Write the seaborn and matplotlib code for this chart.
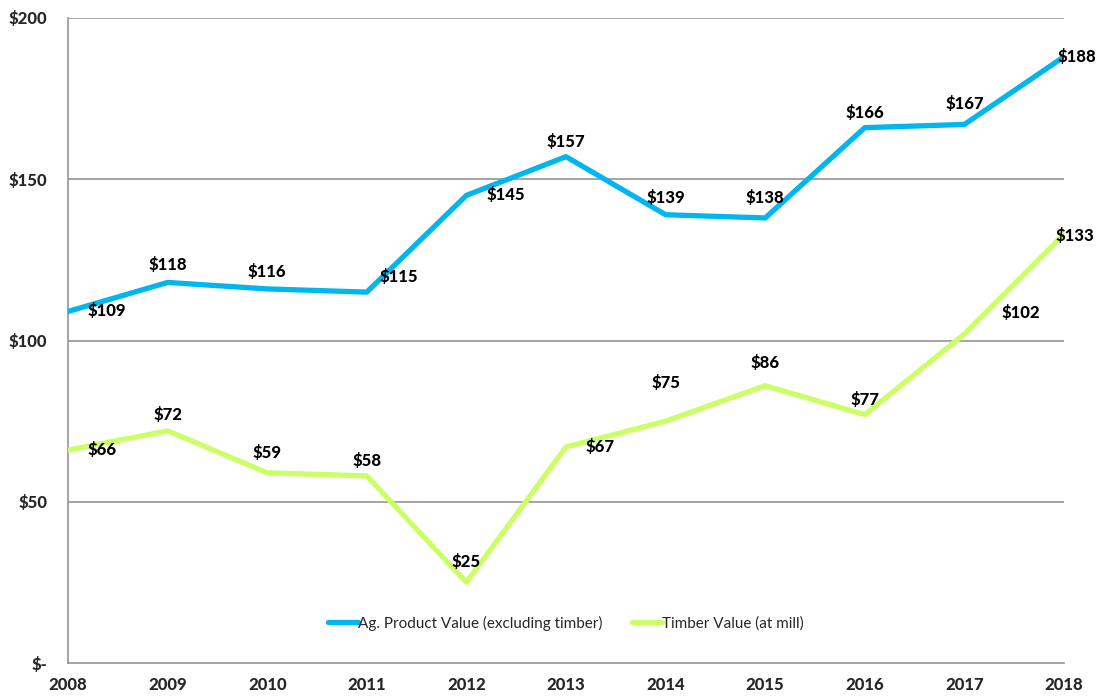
import numpy as np
import pandas as pd
import seaborn as sns
import matplotlib.pyplot as plt
from matplotlib.ticker import FuncFormatter

############
# DATA #
############

years = [2008, 2009, 2010, 2011, 2012, 2013, 2014, 2015, 2016, 2017, 2018]
ag_values = [109, 118, 116, 115, 145, 157, 139, 138, 166, 167, 188]
timber_values = [66, 72, 59, 58, 25, 67, 75, 86, 77, 102, 133]
series_names = ['Ag. Product Value (excluding timber)', 'Timber Value (at mill)']

# label offsets in pixels (dx, dy, ha) - style only
ag_offsets = [(20, 0, 'left'), (0, 17, 'center'), (0, 17, 'center'), (13, 15, 'left'),
              (20, 0, 'left'), (0, 15, 'center'), (0, 17, 'center'), (0, 20, 'center'),
              (0, 15, 'center'), (0, 20, 'center'), (-6, 0, 'left')]
timber_offsets = [(20, 0, 'left'), (0, 16, 'center'), (0, 20, 'center'), (0, 15, 'center'),
                  (0, 20, 'center'), (19, 0, 'left'), (0, 38, 'center'), (0, 23, 'center'),
                  (0, 15, 'center'), (37, 21, 'left'), (-8, -2, 'left')]

BLUE = '#00B6EE'
GREEN = '#CCFF66'
GRID = '#8c8c8c'

sns.set_style('white')
plt.rcParams['font.family'] = ['Lato', 'DejaVu Sans']

df = pd.DataFrame({
    'year': years * 2,
    'value': ag_values + timber_values,
    'series': [series_names[0]] * len(years) + [series_names[1]] * len(years),
})

fig = plt.figure(figsize=(11.04, 6.96), dpi=100)
ax = fig.add_axes([68 / 1104, 1 - 663 / 696, (1064 - 68) / 1104, (663 - 18) / 696])

# Gridlines
for y in [50, 100, 150, 200]:
    ax.axhline(y, color=GRID, linewidth=1.1, zorder=1)

sns.lineplot(data=df, x='year', y='value', hue='series', palette=[BLUE, GREEN],
             linewidth=3.8, ax=ax, zorder=3, solid_capstyle='round')

# Data labels
for vals, offs in [(ag_values, ag_offsets), (timber_values, timber_offsets)]:
    for x, v, (dx, dy, ha) in zip(years, vals, offs):
        ax.annotate(f'${v}', (x, v), xytext=(dx, dy), textcoords='offset pixels',
                    ha=ha, va='center', fontsize=12, fontweight='black', color='black',
                    zorder=4, annotation_clip=False)

ax.set_xlim(2008, 2018)
ax.set_ylim(0, 200)
ax.set_xticks(years)
ax.set_yticks([0, 50, 100, 150, 200])
ax.yaxis.set_major_formatter(FuncFormatter(lambda v, pos: '$-' if v == 0 else f'${int(v)}'))
ax.set_xlabel('')
ax.set_ylabel('')

for side in ['top', 'right']:
    ax.spines[side].set_visible(False)
for side in ['left', 'bottom']:
    ax.spines[side].set_color(GRID)
    ax.spines[side].set_linewidth(1.1)

ax.tick_params(axis='both', which='major', direction='out', length=5, width=1.1,
               color=GRID, labelsize=12, pad=5)
ax.tick_params(axis='y', pad=10)
for lbl in ax.get_xticklabels() + ax.get_yticklabels():
    lbl.set_fontweight('black')

# Legend
leg = ax.legend(loc='center', bbox_to_anchor=(0.5, 0.062), ncol=2, frameon=False,
                fontsize=11, handlelength=2.0, handletextpad=0.0, columnspacing=1.9)
for line in leg.get_lines():
    line.set_linewidth(3.8)
    line.set_solid_capstyle('round')

plt.savefig('out.png', dpi=100)
